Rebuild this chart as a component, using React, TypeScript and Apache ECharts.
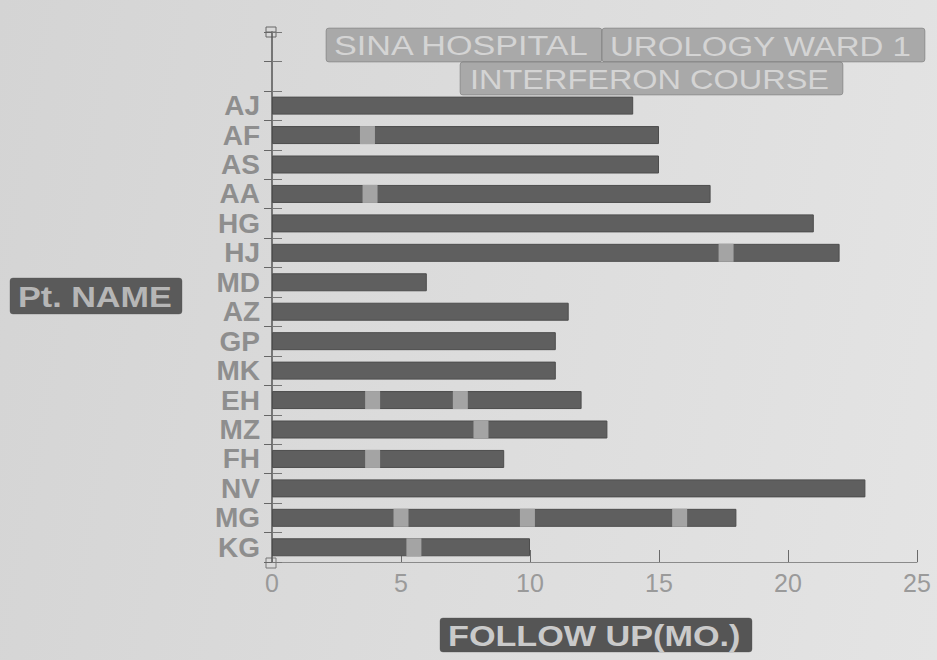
import React, { useEffect, useRef } from "react";
import * as echarts from "echarts";

const patients = ["", "", "AJ", "AF", "AS", "AA", "HG", "HJ", "MD", "AZ", "GP", "MK", "EH", "MZ", "FH", "NV", "MG", "KG"];
const followUp = [null, null, 14, 15, 15, 17, 21, 22, 6, 11.5, 11, 11, 12, 13, 9, 23, 18, 10];
const markerPatients = ["AF", "AA", "HJ", "EH", "EH", "MZ", "FH", "MG", "MG", "MG", "KG"];
const markerMonths = [3.7, 3.8, 17.6, 3.9, 7.3, 8.1, 3.9, 5.0, 9.9, 15.8, 5.5];
const xTicks = [0, 5, 10, 15, 20, 25];

const titleLine1a = "SINA HOSPITAL";
const titleLine1b = "UROLOGY WARD 1";
const titleLine2 = "INTERFERON COURSE";
const yName = "Pt. NAME";
const xName = "FOLLOW UP(MO.)";

export default function App() {
  const ref = useRef<HTMLDivElement>(null);
  useEffect(() => {
    document.body.style.margin = "0";
    const chart = echarts.init(ref.current!, null, { renderer: "svg" });
    const font = "Liberation Sans, Arial, sans-serif";
    const boxText = (
      x: number, y: number, w: number, h: number, text: string,
      fill: string, color: string, size: number, weight: string, sx: number, tx: number
    ) => ({
      type: "group",
      children: [
        { type: "rect", shape: { x, y, width: w, height: h, r: 3 }, style: { fill, stroke: "rgba(80,80,80,0.35)", lineWidth: 1 } },
        {
          type: "text", x: tx, y: y + h / 2 + 1, scaleX: sx,
          style: { text, fill: color, font: `${weight} ${size}px ${font}`, verticalAlign: "middle", align: "left" },
        },
      ],
    });
    const cats = patients;
    const option: any = {
      animation: false,
      grid: { left: 272, right: 20, top: 32, bottom: 98 },
      xAxis: {
        type: "value", min: 0, max: 25, interval: 5,
        axisLine: { show: true, lineStyle: { color: "#8a8a8a", width: 1 } },
        axisTick: { show: true, inside: true, length: 12, lineStyle: { color: "#6a6a6a" } },
        splitLine: { show: false },
        axisLabel: { color: "#9a9a9a", fontSize: 25, fontFamily: font, margin: 8,
          formatter: (v: number) => (xTicks.includes(v) ? String(v) : "") },
      },
      yAxis: [
        {
          type: "category", data: cats, inverse: true,
          axisLine: { show: true, lineStyle: { color: "#555", width: 1.5 } },
          axisTick: { show: true, length: 8, interval: 0, lineStyle: { color: "#666" } },
          axisLabel: { color: "#8e8e8e", fontSize: 28, fontWeight: "bold", fontFamily: font, margin: 12, interval: 0 },
        },
        {
          type: "category", data: cats, inverse: true, position: "left",
          axisLine: { show: false },
          axisTick: { show: true, inside: true, length: 10, interval: 0, lineStyle: { color: "#777" } },
          axisLabel: { show: false },
        },
      ],
      series: [
        {
          type: "bar", data: followUp, barWidth: 18, yAxisIndex: 0,
          itemStyle: { color: "#5f5f5f", borderColor: "#4d4d4d", borderWidth: 1 },
        },
        {
          type: "scatter", yAxisIndex: 0, symbol: "rect", symbolSize: [15, 18],
          data: markerMonths.map((m, i) => [m, markerPatients[i]]),
          itemStyle: { color: "#a4a4a4", opacity: 1 },
          z: 5,
        },
      ],
      graphic: [
        boxText(326, 28, 276, 34, titleLine1a, "#a9a9a9", "#d4d4d4", 28, "normal", 1.22, 334),
        boxText(602, 28, 323, 34, titleLine1b, "#a9a9a9", "#d4d4d4", 28, "normal", 1.18, 610),
        boxText(460, 62, 383, 33, titleLine2, "#a9a9a9", "#d4d4d4", 28, "normal", 1.16, 470),
        boxText(10, 278, 172, 36, yName, "#5a5a5a", "#b6b6b6", 30, "bold", 1.14, 18),
        boxText(440, 618, 312, 34, xName, "#555555", "#cacaca", 30, "bold", 1.14, 448),
        { type: "rect", shape: { x: 266, y: 27, width: 10, height: 10 }, style: { fill: "none", stroke: "#666", lineWidth: 1 } },
        { type: "line", shape: { x1: 266, y1: 32, x2: 276, y2: 32 }, style: { stroke: "#666", lineWidth: 1 } },
        { type: "rect", shape: { x: 266, y: 558, width: 10, height: 10 }, style: { fill: "none", stroke: "#777", lineWidth: 1 } },
      ],
    };
    chart.setOption(option);
    return () => chart.dispose();
  }, []);
  return (
    <div
      ref={ref}
      style={{
        width: 937, height: 660,
        background: "linear-gradient(100deg, #d4d4d4 0%, #dcdcdc 50%, #e4e4e4 100%)",
      }}
    />
  );
}
